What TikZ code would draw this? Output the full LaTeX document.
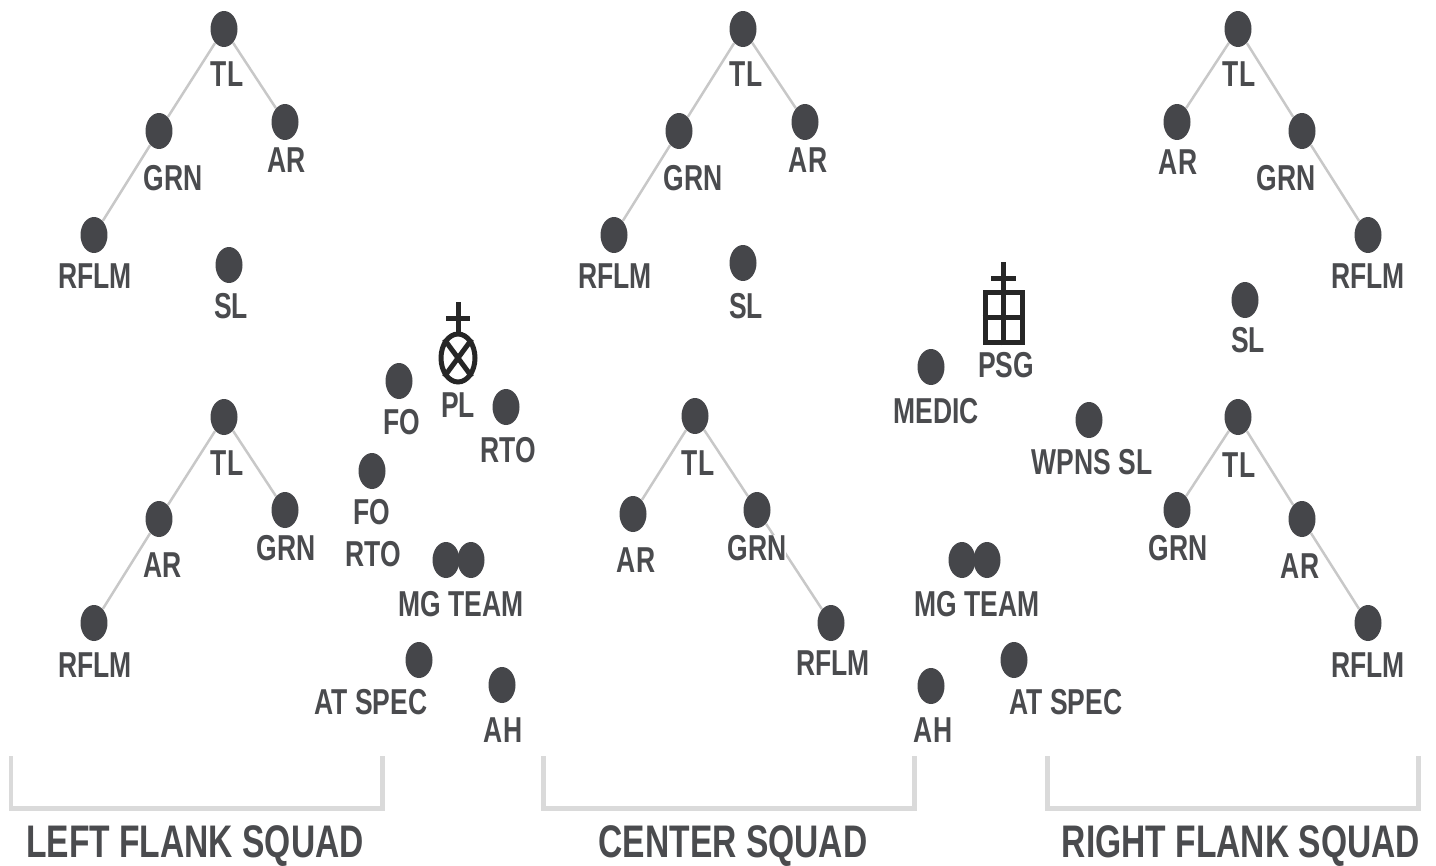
\documentclass[tikz,border=0pt]{standalone}
\usepackage{fontspec}
\setmainfont{Liberation Sans}[FakeStretch=0.735]
\usetikzlibrary{shapes.geometric, backgrounds}
\definecolor{dotgray}{HTML}{45464A}
\definecolor{txtgray}{HTML}{4A4B4E}
\definecolor{linegray}{HTML}{C8C8C8}
\definecolor{brkgray}{HTML}{DADADA}
\tikzset{
  man/.style={ellipse, fill=dotgray, inner sep=0pt, minimum width=0.54cm, minimum height=0.72cm},
  lbl/.style={fill=white, inner sep=0pt, text=txtgray, font=\fontsize{20.5}{22}\selectfont\bfseries},
  squadname/.style={inner sep=0pt, text=txtgray, font=\fontsize{26}{30}\selectfont\bfseries},
  link/.style={draw=linegray, line width=0.05cm},
  bracket/.style={draw=brkgray, line width=0.1cm},
  symb/.style={draw=black!85, line width=0.1cm}
}
\begin{document}
\begin{tikzpicture}[x=0.02cm, y=-0.02cm]
        \useasboundingbox (0,0) rectangle (1436,865);
%       left flank squad
        \node[man] (ata) at (224,29) {};  \node[lbl] (atal) at (227,74) {TL};
        \node[man] (agr) at (159,131) {}; \node[lbl] (agrl) at (173,178) {GRN};
        \node[man] (aar) at (285,122) {}; \node[lbl] (aarl) at (287,160) {AR};
        \node[man] (arf) at (94,235) {};  \node[lbl] (arfl) at (95,276) {RFLM};
        \node[man] (asl) at (229,265) {}; \node[lbl] (asll) at (231,306) {SL};
        \node[man] (btl) at (224,417) {}; \node[lbl] (btll) at (227,463) {TL};
        \node[man] (bar) at (159,519) {}; \node[lbl] (barl) at (163,565) {AR};
        \node[man] (bgr) at (285,510) {}; \node[lbl] (bgrl) at (286,548) {GRN};
        \node[man] (brf) at (94,623) {};  \node[lbl] (brfl) at (95,665) {RFLM};
%       platoon HQ, left side
        \node[ellipse, symb, inner sep=0pt, minimum width=0.68cm, minimum height=0.96cm] (pl) at (458,358) {};
        \node[lbl] (pll) at (458,405) {PL};
        \coordinate (pltop) at (458,302);
        \coordinate (plbl) at (446,318);
        \coordinate (plbr) at (470,318);
        \draw[symb] (pl.north) -- (pltop);
        \draw[symb] (plbl) -- (plbr);
        \draw[symb] (pl.north west) -- (pl.south east);
        \draw[symb] (pl.north east) -- (pl.south west);
        \node[man] (fo) at (399,381) {};   \node[lbl] (fol) at (402,422) {FO};
        \node[man] (rto) at (506,407) {};  \node[lbl] (rtol) at (508,450) {RTO};
        \node[man] (frt) at (372,471) {};  \node[lbl] (frtla) at (372,512) {FO};
        \node[lbl] (frtlb) at (373,554) {RTO};
        \node[man] (mga) at (446,560) {};  \node[man] (mgb) at (471,560) {};
        \node[lbl] (mgl) at (461,604) {MG TEAM};
        \node[man] (ats) at (419,660) {};  \node[lbl] (atsl) at (371,702) {AT SPEC};
        \node[man] (ah) at (502,685) {};   \node[lbl] (ahl) at (503,730) {AH};
%       center squad
        \node[man] (cta) at (743,29) {};  \node[lbl] (ctal) at (746,74) {TL};
        \node[man] (cgr) at (679,131) {}; \node[lbl] (cgrl) at (693,178) {GRN};
        \node[man] (car) at (805,122) {}; \node[lbl] (carl) at (808,160) {AR};
        \node[man] (crf) at (614,235) {}; \node[lbl] (crfl) at (615,276) {RFLM};
        \node[man] (csl) at (743,263) {}; \node[lbl] (csll) at (746,306) {SL};
        \node[man] (dtl) at (695,416) {}; \node[lbl] (dtll) at (698,463) {TL};
        \node[man] (dar) at (633,514) {}; \node[lbl] (darl) at (636,560) {AR};
        \node[man] (dgr) at (757,510) {}; \node[lbl] (dgrl) at (757,548) {GRN};
        \node[man] (drf) at (831,623) {}; \node[lbl] (drfl) at (833,663) {RFLM};
%       platoon HQ, right side
        \node[rectangle, symb, inner sep=0pt, minimum width=0.74cm, minimum height=1.02cm] (psg) at (1003.5,317.5) {};
        \node[lbl] (psgl) at (1006,365) {PSG};
        \coordinate (psgtop) at (1003.5,262);
        \coordinate (psgbl) at (991,278);
        \coordinate (psgbr) at (1016,278);
        \draw[symb] (psg.south) -- (psgtop);
        \draw[symb] (psgbl) -- (psgbr);
        \draw[symb] (psg.west) -- (psg.east);
        \node[man] (med) at (931,367) {};  \node[lbl] (medl) at (936,411) {MEDIC};
        \node[man] (wsl) at (1089,420) {}; \node[lbl] (wsll) at (1092,462) {WPNS SL};
        \node[man] (mgc) at (962,560) {};  \node[man] (mgd) at (987,560) {};
        \node[lbl] (mgm) at (977,604) {MG TEAM};
        \node[man] (ahb) at (931,686) {};  \node[lbl] (ahbl) at (933,730) {AH};
        \node[man] (atb) at (1014,660) {}; \node[lbl] (atbl) at (1066,702) {AT SPEC};
%       right flank squad
        \node[man] (eta) at (1238,29) {};  \node[lbl] (etal) at (1239,74) {TL};
        \node[man] (ear) at (1177,122) {}; \node[lbl] (earl) at (1178,162) {AR};
        \node[man] (egr) at (1302,131) {}; \node[lbl] (egrl) at (1286,178) {GRN};
        \node[man] (erf) at (1368,235) {}; \node[lbl] (erfl) at (1368,276) {RFLM};
        \node[man] (esl) at (1245,300) {}; \node[lbl] (esll) at (1248,340) {SL};
        \node[man] (ftl) at (1238,417) {}; \node[lbl] (ftll) at (1239,465) {TL};
        \node[man] (fgr) at (1177,510) {}; \node[lbl] (fgrl) at (1178,548) {GRN};
        \node[man] (far) at (1302,519) {}; \node[lbl] (farl) at (1300,566) {AR};
        \node[man] (frf) at (1368,623) {}; \node[lbl] (frfl) at (1368,665) {RFLM};
%       wedges, behind the labels
        \begin{scope}[on background layer]
        \draw[link] (ata) -- (agr); \draw[link] (agr) -- (arf); \draw[link] (ata) -- (aar);
        \draw[link] (btl) -- (bar); \draw[link] (bar) -- (brf); \draw[link] (btl) -- (bgr);
        \draw[link] (cta) -- (cgr); \draw[link] (cgr) -- (crf); \draw[link] (cta) -- (car);
        \draw[link] (dtl) -- (dar); \draw[link] (dtl) -- (dgr); \draw[link] (dgr) -- (drf);
        \draw[link] (eta) -- (ear); \draw[link] (eta) -- (egr); \draw[link] (egr) -- (erf);
        \draw[link] (ftl) -- (fgr); \draw[link] (ftl) -- (far); \draw[link] (far) -- (frf);
        \end{scope}
%       brackets and squad names
        \draw[bracket] (11,756) -- (11,808) -- (382,808) -- (382,756);
        \draw[bracket] (543,756) -- (543,808) -- (914,808) -- (914,756);
        \draw[bracket] (1047,756) -- (1047,808) -- (1418,808) -- (1418,756);
        \node[squadname] (lfs) at (195,846) {LEFT FLANK SQUAD};
        \node[squadname] (cs) at (733,846) {CENTER SQUAD};
        \node[squadname] (rfs) at (1241,846) {RIGHT FLANK SQUAD};
    \end{tikzpicture}
\end{document}
